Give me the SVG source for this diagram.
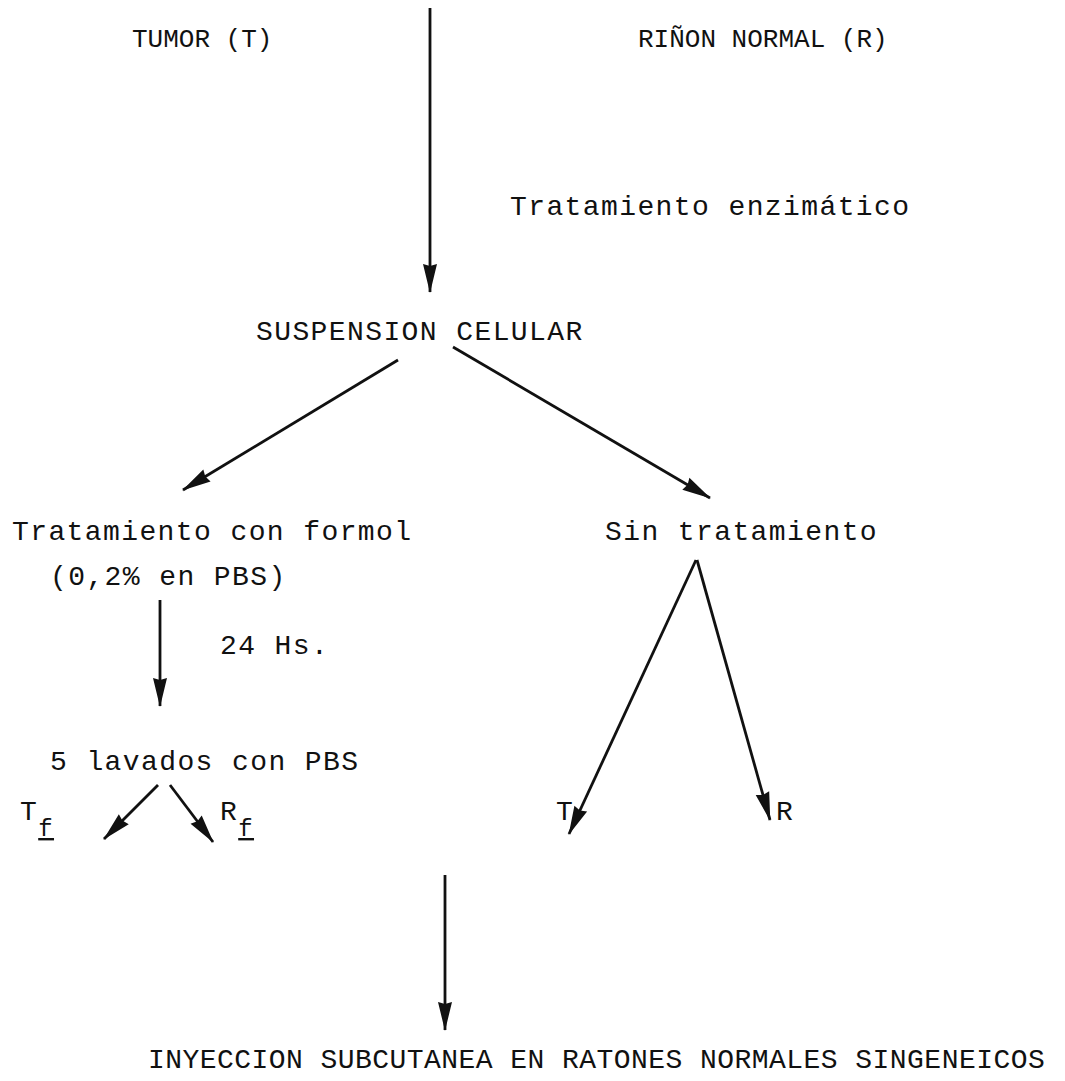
<svg xmlns="http://www.w3.org/2000/svg" width="1065" height="1081" viewBox="0 0 1065 1081">
  <style>
    .t { font-family: "Liberation Mono", "Courier New", monospace; font-size: 28px; letter-spacing: 1.4px; fill: #111; }
    .top { font-size: 26px; letter-spacing: 0; }
    .wide { letter-spacing: 0.45px; }
    .sub { font-size: 24px; text-decoration: underline; }
    .c { stroke: #111; stroke-width: 2.8; fill: none; }
  </style>
  <defs>
    <!-- narrow solid arrowhead, tip at the line end -->
    <marker id="ah" viewBox="-32 -9 34 18" refX="0" refY="0" markerWidth="34" markerHeight="18" markerUnits="userSpaceOnUse" orient="auto">
      <path d="M1,0 L-28,-7 L-26,0 L-28,7 Z" fill="#111"/>
    </marker>
  </defs>
  <rect width="1065" height="1081" fill="#fff"/>

  <g id="connectors">
    <line class="c" x1="430" y1="8" x2="430" y2="292" marker-end="url(#ah)"/>
    <line class="c" x1="398" y1="360" x2="183" y2="490" marker-end="url(#ah)"/>
    <line class="c" x1="453" y1="347" x2="710" y2="498" marker-end="url(#ah)"/>
    <line class="c" x1="160" y1="600" x2="160" y2="706" marker-end="url(#ah)"/>
    <line class="c" x1="158" y1="785" x2="104" y2="839" marker-end="url(#ah)"/>
    <line class="c" x1="170" y1="785" x2="213" y2="842" marker-end="url(#ah)"/>
    <line class="c" x1="696" y1="560" x2="569" y2="834" marker-end="url(#ah)"/>
    <line class="c" x1="697" y1="560" x2="770" y2="820" marker-end="url(#ah)"/>
    <line class="c" x1="445" y1="875" x2="445" y2="1030" marker-end="url(#ah)"/>
  </g>

  <g id="tumor"><text class="t top" x="132" y="47">TUMOR (T)</text></g>
  <g id="rinon"><text class="t top" x="638" y="47">RIÑON NORMAL (R)</text></g>
  <g id="enzimatico"><text class="t" x="510" y="215">Tratamiento enzimático</text></g>
  <g id="suspension"><text class="t" x="256" y="340">SUSPENSION CELULAR</text></g>
  <g id="formol">
    <text class="t" x="12" y="540">Tratamiento con formol</text>
    <text class="t" x="50" y="585">(0,2% en PBS)</text>
  </g>
  <g id="horas"><text class="t" x="220" y="654">24 Hs.</text></g>
  <g id="lavados"><text class="t" x="50" y="770">5 lavados con PBS</text></g>
  <g id="tf"><text class="t" x="20" y="820">T<tspan class="sub" dy="16">f</tspan></text></g>
  <g id="rf"><text class="t" x="220" y="820">R<tspan class="sub" dy="16">f</tspan></text></g>
  <g id="sin"><text class="t" x="605" y="540">Sin tratamiento</text></g>
  <g id="t"><text class="t" x="556" y="820">T</text></g>
  <g id="r"><text class="t" x="776" y="820">R</text></g>
  <g id="inyeccion"><text class="t wide" x="148" y="1068">INYECCION SUBCUTANEA EN RATONES NORMALES SINGENEICOS</text></g>
</svg>
